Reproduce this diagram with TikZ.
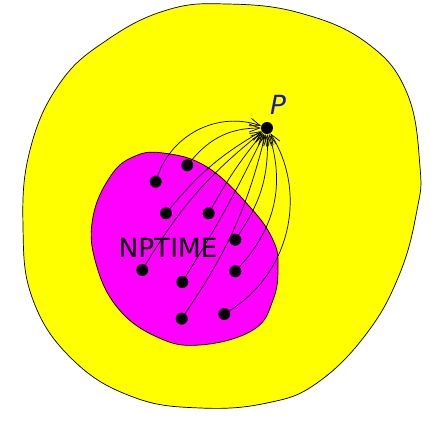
\documentclass[tikz,border=0pt]{standalone}
\usepackage{fontspec}
\setsansfont{DejaVu Sans}
\usepackage{xcolor}
\usetikzlibrary{arrows.meta,positioning}
\definecolor{pblue}{HTML}{1A1AB4}
\definecolor{classy}{HTML}{FFFF00}
\definecolor{classm}{HTML}{FF00FF}

\begin{document}
\begin{tikzpicture}[
   x=0.02cm,y=-0.02cm,
   font=\sffamily\fontsize{15}{18}\selectfont,
   dot/.style   ={circle,fill=black,inner sep=0pt,minimum size=0.24cm},
   region/.style={draw=black,thin},
   red/.style   ={-{Straight Barb[length=6pt,width=4.5pt]},thin}
  ]
  \useasboundingbox (0,0) rectangle (440,422);

  % outer class
  \draw[region,fill=classy] plot[smooth cycle,tension=0.7] coordinates {
    (227,4) (300,13) (367,43) (407,93) (420,167) (417,210) (400,273)
    (367,333) (317,383) (267,403) (200,408) (133,397) (73,360) (33,300)
    (23,227) (30,150) (60,83) (107,40) (167,10)};

  % NPTIME
  \draw[region,fill=classm] plot[smooth cycle,tension=0.7] coordinates {
    (163,153) (207,167) (250,207) (273,240) (278,267) (273,300) (253,330)
    (200,345) (157,337) (117,307) (95,260) (93,217) (110,177) (133,157)};
  \node (np) at (168,248) {NPTIME};

  % complete problem
  \node[dot] (P) at (267,128) {};
  \node[text=pblue,above right=0.5mm and -1.5mm of P] (lp) {\textit{P}};

  % problems in NPTIME
  \node[dot] (d1) at (155.7,181.7) {};
  \node[dot] (d2) at (187.3,165.3) {};
  \node[dot] (d3) at (166,213.3) {};
  \node[dot] (d4) at (208.7,213.3) {};
  \node[dot] (d5) at (235.3,239.7) {};
  \node[dot] (d6) at (142.3,270) {};
  \node[dot] (d7) at (182.3,282) {};
  \node[dot] (d8) at (235.3,271.3) {};
  \node[dot] (d9) at (181.7,318.7) {};
  \node[dot] (d10) at (224.3,314) {};

  % reductions
  \draw[red] (d1) to[bend left=45] (P);
  \draw[red] (d2) to[bend left=25] (P);
  \draw[red] (d3) to[bend left=10] (P);
  \draw[red] (d4) to[bend left=5] (P);
  \draw[red] (d6) to[bend left=10] (P);
  \draw[red] (d7) to[bend right=3] (P);
  \draw[red] (d9) to[bend right=10] (P);
  \draw[red] (d5) to[bend right=18] (P);
  \draw[red] (d8) to[bend right=30] (P);
  \draw[red] (d10) to[bend right=45] (P);
\end{tikzpicture}
\end{document}
